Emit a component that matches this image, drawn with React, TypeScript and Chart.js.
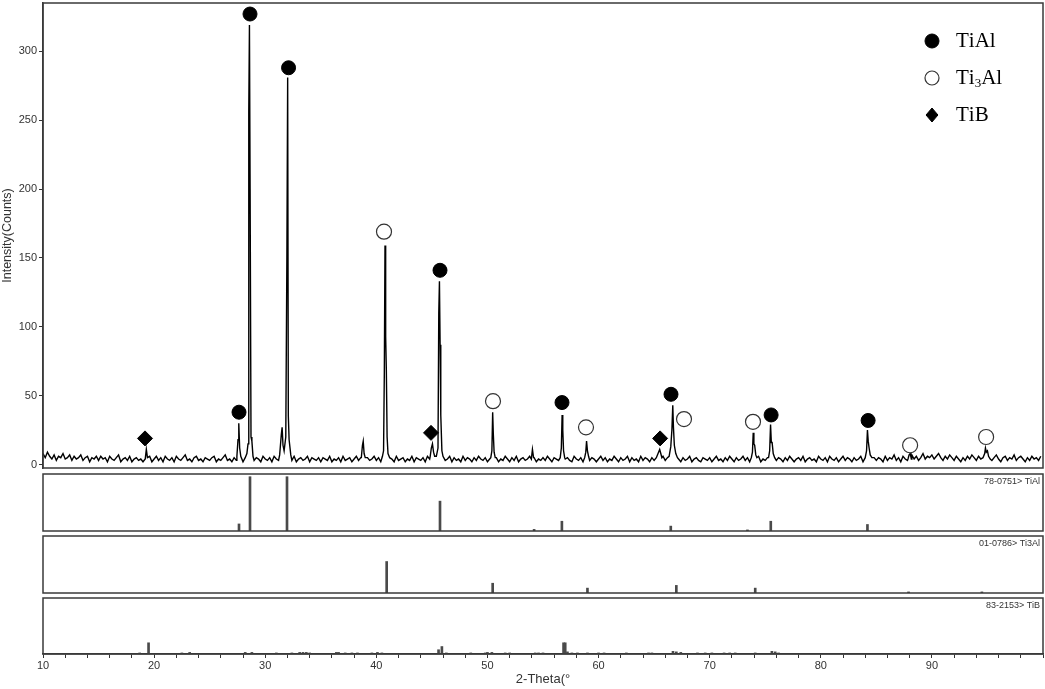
import React, { useEffect, useRef } from "react";
import { Chart, registerables } from "chart.js";

Chart.register(...registerables);
Chart.defaults.font.family = "'Liberation Sans', Arial, sans-serif";

// ---------------- data ----------------
const angleMin = 10;
const angleMax = 100;

// measured background counts, 10.0° .. 99.8° every 0.2°
const bgStart = 10.0;
const bgStep = 0.2;
const background: number[] = [
  8, 5, 9, 6, 4, 7, 3, 6, 5, 8, 4, 5, 7, 3, 6, 4, 5, 7, 3, 5, 6, 2, 5, 4, 6,
  3, 6, 4, 5, 2, 6, 4, 3, 5, 7, 2, 4, 5, 3, 6, 2, 4, 5, 3, 4, 2, 5, 3, 6, 2,
  4, 6, 3, 5, 2, 6, 4, 3, 5, 2, 6, 4, 3, 5, 7, 3, 4, 2, 5, 6, 3, 4, 2, 5, 4,
  3, 5, 6, 2, 4, 3, 5, 7, 3, 4, 2, 5, 3, 6, 4, 2, 5, 3, 6, 4, 3, 5, 4, 2, 6,
  4, 3, 5, 2, 6, 4, 3, 5, 7, 2, 4, 5, 3, 6, 2, 4, 5, 3, 4, 6, 2, 5, 4, 3, 5,
  2, 5, 4, 3, 6, 2, 4, 3, 5, 2, 6, 3, 4, 5, 2, 4, 6, 3, 5, 4, 2, 5, 3, 4, 6,
  3, 5, 2, 4, 6, 3, 5, 4, 2, 6, 3, 4, 5, 2, 4, 3, 6, 2, 5, 4, 3, 5, 2, 6, 4,
  5, 3, 6, 2, 4, 5, 3, 4, 6, 2, 5, 3, 4, 2, 6, 3, 5, 4, 2, 5, 3, 6, 4, 3, 5,
  2, 4, 6, 3, 5, 2, 4, 3, 6, 4, 2, 5, 3, 6, 2, 4, 5, 3, 4, 6, 3, 5, 2, 4, 3,
  5, 3, 6, 4, 2, 5, 4, 3, 6, 2, 4, 5, 3, 2, 6, 4, 3, 5, 2, 4, 6, 3, 5, 4, 2,
  4, 6, 3, 5, 2, 4, 3, 6, 4, 2, 5, 3, 4, 6, 2, 5, 3, 4, 2, 6, 3, 5, 4, 2, 5,
  3, 5, 4, 2, 6, 3, 5, 2, 4, 3, 6, 4, 2, 5, 3, 4, 6, 2, 4, 5, 3, 2, 5, 4, 3,
  5, 2, 4, 6, 3, 4, 2, 5, 3, 6, 4, 2, 5, 3, 4, 6, 3, 5, 2, 4, 3, 5, 6, 2, 4,
  3, 5, 2, 4, 6, 3, 5, 4, 2, 5, 3, 6, 4, 2, 4, 5, 3, 6, 2, 4, 5, 3, 4, 2, 6,
  4, 3, 5, 2, 6, 4, 3, 5, 2, 4, 6, 3, 5, 4, 2, 5, 3, 4, 6, 2, 4, 5, 3, 2, 5,
  3, 5, 4, 2, 6, 3, 5, 4, 7, 3, 5, 2, 6, 4, 3, 5, 7, 4, 6, 3, 5, 8, 4, 6, 5,
  7, 4, 6, 8, 5, 3, 6, 4, 7, 5, 3, 6, 4, 2, 5, 3, 6, 4, 7, 5, 3, 6, 4, 5, 7,
  4, 6, 3, 5, 7, 4, 2, 5, 6, 3, 5, 4, 7, 3, 5, 6, 4, 2, 5, 3, 6, 4, 5, 3, 6,
];

// diffraction peak profiles [2θ, counts]
const peakProfiles: number[][][] = [
  [[19.2, 4], [19.3, 11], [19.4, 5]],
  [[27.45, 6], [27.55, 18], [27.62, 30], [27.7, 12], [27.8, 6]],
  [[28.35, 8], [28.45, 15], [28.52, 256], [28.58, 319], [28.64, 200], [28.72, 20], [28.8, 17], [28.9, 6]],
  [[31.3, 7], [31.45, 22], [31.52, 27], [31.6, 14], [31.7, 10], [31.85, 20], [31.95, 151], [32.02, 281], [32.08, 35], [32.15, 18], [32.3, 7]],
  [[38.65, 5], [38.75, 14], [38.82, 17], [38.9, 8], [39.0, 5]],
  [[40.55, 6], [40.65, 10], [40.72, 67], [40.78, 159], [40.84, 93], [40.9, 69], [40.97, 20], [41.05, 8]],
  [[44.85, 6], [44.95, 12], [45.05, 15], [45.15, 9], [45.25, 6]],
  [[45.45, 6], [45.55, 12], [45.62, 110], [45.68, 133], [45.74, 87], [45.8, 36], [45.9, 10], [46.0, 6]],
  [[50.3, 5], [50.4, 10], [50.47, 38], [50.53, 22], [50.6, 9], [50.7, 5]],
  [[53.95, 4], [54.05, 11], [54.15, 5]],
  [[56.55, 5], [56.65, 12], [56.72, 36], [56.78, 25], [56.85, 10], [56.95, 5]],
  [[58.75, 5], [58.85, 9], [58.92, 17], [59.0, 10], [59.1, 6]],
  [[65.25, 5], [65.4, 9], [65.5, 11], [65.6, 8], [65.7, 5]],
  [[66.35, 6], [66.5, 13], [66.6, 25], [66.68, 43], [66.74, 27], [66.82, 14], [66.95, 8], [67.1, 5]],
  [[73.75, 5], [73.85, 9], [73.92, 23], [73.98, 15], [74.05, 14], [74.15, 7], [74.25, 5]],
  [[75.3, 5], [75.4, 10], [75.48, 29], [75.55, 16], [75.62, 16], [75.72, 8], [75.85, 5]],
  [[84.0, 5], [84.12, 10], [84.2, 25], [84.27, 17], [84.35, 12], [84.45, 7], [84.6, 5]],
  [[87.85, 4], [87.95, 7], [88.05, 8], [88.15, 4]],
  [[94.65, 5], [94.75, 8], [94.82, 12], [94.9, 9], [95.0, 10], [95.1, 6], [95.25, 4]],
];

// phase markers
const phaseNames = ["TiAl", "Ti3Al", "TiB"];
const tiAlMarkAngles = [27.64, 28.63, 32.1, 45.73, 56.71, 66.52, 75.53, 84.26];
const tiAlMarkCounts = [38, 327, 288, 141, 45, 51, 36, 32];
const ti3AlMarkAngles = [40.69, 50.5, 58.87, 67.69, 73.9, 88.04, 94.88];
const ti3AlMarkCounts = [169, 46, 27, 33, 31, 14, 20];
const tiBMarkAngles = [19.18, 44.92, 65.54];
const tiBMarkCounts = [19, 23, 19];

// reference cards (relative intensity, %)
const refLabels = ["78-0751> TiAl", "01-0786> Ti3Al", "83-2153> TiB"];
const refTiAlAngles = [27.64, 28.63, 31.96, 45.73, 54.2, 56.7, 66.5, 73.4, 75.5, 84.2];
const refTiAlInt = [13, 100, 100, 55, 3, 18, 9, 2, 18, 12];
const refTi3AlAngles = [40.93, 50.47, 59.0, 67.0, 74.1, 87.9, 94.5];
const refTi3AlInt = [58, 18, 9, 14, 9, 2, 2];
const refTiBAngles = [
  18.7, 19.5, 22.5, 23.2, 28.2, 28.8, 31.0, 32.4, 33.1, 33.4, 33.7, 34.0, 36.4, 36.6, 37.2, 37.8,
  38.3, 39.6, 40.1, 40.5, 45.6, 45.9, 46.3, 48.5, 49.8, 50.0, 50.4, 51.6, 52.0, 54.3, 54.6, 55.0,
  56.85, 57.0, 57.2, 57.6, 58.1, 59.0, 60.0, 60.5, 62.5, 64.5, 64.8, 66.7, 67.0, 67.4, 68.9, 69.6,
  70.2, 71.3, 71.8, 72.3, 74.1, 75.6, 75.9, 76.2,
];
const refTiBInt = [
  2, 21, 2, 3, 3, 3, 2, 2, 3, 3, 3, 2, 3, 3, 2, 2,
  2, 2, 3, 2, 8, 14, 2, 2, 2, 3, 3, 2, 2, 2, 2, 2,
  21, 21, 4, 2, 2, 2, 2, 2, 2, 2, 2, 5, 4, 3, 2, 2,
  2, 2, 2, 2, 2, 5, 4, 2,
];

const countTicksStep = 50;

// ---------------- helpers ----------------
function buildPattern() {
  const ranges = peakProfiles.map((p) => [p[0][0], p[p.length - 1][0]]);
  const pts: { x: number; y: number }[] = [];
  background.forEach((v, i) => {
    const x = +(bgStart + i * bgStep).toFixed(2);
    if (!ranges.some(([a, b]) => x >= a - 1e-6 && x <= b + 1e-6)) pts.push({ x, y: v });
  });
  peakProfiles.forEach((p) => p.forEach(([x, y]) => pts.push({ x, y })));
  pts.sort((a, b) => a.x - b.x);
  return pts;
}

const zip = (xs: number[], ys: number[]) => xs.map((x, i) => ({ x, y: ys[i] }));

const FRAME = "#3a3a3a";

const framePlugin = {
  id: "frameBox",
  afterDraw(chart: any) {
    const { ctx, chartArea: a } = chart;
    ctx.save();
    ctx.strokeStyle = FRAME;
    ctx.lineWidth = 1.5;
    ctx.strokeRect(a.left, a.top, a.right - a.left, a.bottom - a.top);
    ctx.restore();
  },
};

function drawMarker(ctx: CanvasRenderingContext2D, ds: any, x: number, y: number) {
  ctx.save();
  ctx.fillStyle = ds.backgroundColor;
  ctx.strokeStyle = ds.borderColor;
  ctx.lineWidth = ds.borderWidth;
  ctx.beginPath();
  if (ds.pointStyle === "rectRot") {
    const r = 7;
    ctx.moveTo(x, y - r);
    ctx.lineTo(x + r * 0.85, y);
    ctx.lineTo(x, y + r);
    ctx.lineTo(x - r * 0.85, y);
    ctx.closePath();
  } else {
    ctx.arc(x, y, 7, 0, Math.PI * 2);
  }
  ctx.fill();
  ctx.stroke();
  ctx.restore();
}

function drawChemLabel(ctx: CanvasRenderingContext2D, text: string, x: number, y: number) {
  ctx.save();
  ctx.fillStyle = "#000";
  ctx.textAlign = "left";
  ctx.textBaseline = "middle";
  let cx = x;
  for (const ch of text) {
    const sub = /[0-9]/.test(ch);
    ctx.font = sub ? "13px 'Liberation Serif', 'Times New Roman', serif" : "21px 'Liberation Serif', 'Times New Roman', serif";
    ctx.fillText(ch, cx, sub ? y + 6 : y);
    cx += ctx.measureText(ch).width;
  }
  ctx.restore();
}

const legendPlugin = {
  id: "phaseLegend",
  afterDraw(chart: any) {
    const { ctx, chartArea: a } = chart;
    const sets = chart.data.datasets.slice(1);
    sets.forEach((ds: any, i: number) => {
      const cy = a.top + 38 + i * 37;
      drawMarker(ctx, ds, a.right - 111, cy);
      drawChemLabel(ctx, ds.label, a.right - 87, cy);
    });
  },
};

const refLabelPlugin = {
  id: "refLabel",
  afterDraw(chart: any, _args: any, opts: any) {
    const { ctx, chartArea: a } = chart;
    ctx.save();
    ctx.fillStyle = "#333";
    ctx.font = "9px 'Liberation Sans', Arial, sans-serif";
    ctx.textAlign = "right";
    ctx.textBaseline = "middle";
    ctx.fillText(opts.text, a.right - 3, a.top + 8);
    ctx.restore();
  },
};

function mainConfig(): any {
  return {
    type: "scatter",
    data: {
      datasets: [
        {
          type: "line",
          label: "pattern",
          data: buildPattern(),
          borderColor: "#000",
          borderWidth: 1.4,
          pointRadius: 0,
          tension: 0,
          order: 2,
        },
        {
          label: phaseNames[0],
          data: zip(tiAlMarkAngles, tiAlMarkCounts),
          pointStyle: "circle",
          pointRadius: 7,
          backgroundColor: "#000",
          borderColor: "#000",
          borderWidth: 1,
          order: 1,
        },
        {
          label: phaseNames[1],
          data: zip(ti3AlMarkAngles, ti3AlMarkCounts),
          pointStyle: "circle",
          pointRadius: 7.5,
          backgroundColor: "#fff",
          borderColor: "#333",
          borderWidth: 1.2,
          order: 1,
        },
        {
          label: phaseNames[2],
          data: zip(tiBMarkAngles, tiBMarkCounts),
          pointStyle: "rectRot",
          pointRadius: 7.5,
          backgroundColor: "#000",
          borderColor: "#000",
          borderWidth: 1,
          order: 1,
        },
      ],
    },
    options: {
      responsive: false,
      animation: false,
      layout: { autoPadding: false, padding: { left: 0, top: 3, right: 2, bottom: 2 } },
      plugins: { legend: { display: false }, tooltip: { enabled: false } },
      scales: {
        x: { type: "linear", min: angleMin, max: angleMax, display: false },
        y: {
          type: "linear",
          min: -2.5,
          max: 335,
          ticks: {
            stepSize: countTicksStep,
            includeBounds: false,
            color: "#333",
            font: { size: 11 },
            padding: 2,
          },
          grid: { drawOnChartArea: false, drawTicks: true, tickLength: 4, color: "#333" },
          border: { display: true, color: FRAME, width: 1.5 },
          title: {
            display: true,
            text: "Intensity(Counts)",
            color: "#333",
            font: { size: 12.5 },
            padding: { top: 0, bottom: 0 },
          },
          afterFit: (s: any) => {
            s.width = 43;
            s.paddingTop = 0;
            s.paddingBottom = 0;
          },
        },
      },
    },
    plugins: [framePlugin, legendPlugin],
  };
}

function refConfig(angles: number[], ints: number[], label: string, showAxis: boolean): any {
  const xScale: any = {
    type: "linear",
    min: angleMin,
    max: angleMax,
    offset: false,
    display: showAxis,
    ticks: {
      stepSize: 2,
      autoSkip: false,
      maxRotation: 0,
      includeBounds: false,
      color: "#333",
      font: { size: 11 },
      padding: 1,
      callback: (v: number) => (v % 10 === 0 && v < angleMax ? String(v) : ""),
    },
    grid: { drawOnChartArea: false, drawTicks: true, tickLength: 4, color: "#333", offset: false },
    border: { display: true, color: FRAME, width: 1.5 },
    title: {
      display: true,
      text: "2-Theta(°",
      color: "#333",
      font: { size: 13 },
      padding: { top: 2, bottom: 2 },
    },
  };
  if (showAxis) {
    xScale.afterFit = (s: any) => {
      s.height = 35;
      s.paddingLeft = 0;
      s.paddingRight = 0;
    };
  }
  return {
    type: "bar",
    data: {
      datasets: [
        {
          data: zip(angles, ints),
          backgroundColor: "#4a4a4a",
          borderWidth: 0,
          barThickness: 2,
        },
      ],
    },
    options: {
      responsive: false,
      animation: false,
      layout: { autoPadding: false, padding: { left: 43, right: 2, top: 2, bottom: showAxis ? 0 : 2 } },
      plugins: { legend: { display: false }, tooltip: { enabled: false }, refLabel: { text: label } },
      scales: {
        x: xScale,
        y: { type: "linear", min: 0, max: 105, display: false },
      },
    },
    plugins: [framePlugin, refLabelPlugin],
  };
}

function ChartBox(props: { make: () => any; left: number; top: number; width: number; height: number }) {
  const ref = useRef<HTMLCanvasElement>(null);
  useEffect(() => {
    const chart = new Chart(ref.current as HTMLCanvasElement, props.make());
    return () => chart.destroy();
  }, []);
  return (
    <canvas
      ref={ref}
      width={props.width}
      height={props.height}
      style={{ position: "absolute", left: props.left, top: props.top, width: props.width, height: props.height }}
    />
  );
}

export default function App() {
  return (
    <div style={{ position: "absolute", left: 0, top: 0, width: 1045, height: 689, background: "#fff" }}>
      <ChartBox make={mainConfig} left={0} top={0} width={1045} height={470} />
      <ChartBox make={() => refConfig(refTiAlAngles, refTiAlInt, refLabels[0], false)} left={0} top={472} width={1045} height={61} />
      <ChartBox make={() => refConfig(refTi3AlAngles, refTi3AlInt, refLabels[1], false)} left={0} top={534} width={1045} height={61} />
      <ChartBox make={() => refConfig(refTiBAngles, refTiBInt, refLabels[2], true)} left={0} top={596} width={1045} height={93} />
    </div>
  );
}
